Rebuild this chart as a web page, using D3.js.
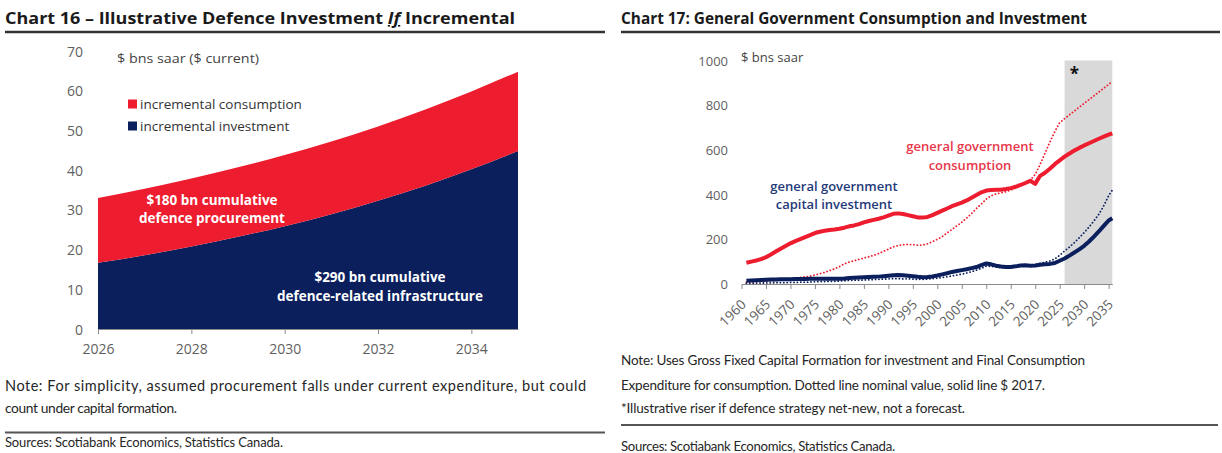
<!DOCTYPE html>
<html>
<head>
<meta charset="utf-8">
<script src="https://cdn.jsdelivr.net/npm/d3@7"></script>
<style>
body { margin: 0; background: #fff; }
svg text { font-family: "Open Sans", sans-serif; }
svg text.note { font-family: Lato, "Open Sans", sans-serif; }
</style>
</head>
<body>
<script>
// ---- chart 16 data
const defYears = [2026, 2027, 2028, 2029, 2030, 2031, 2032, 2033, 2034, 2035];
const incInvestment = [16.7, 18.6, 20.8, 23.2, 25.9, 28.9, 32.3, 36.0, 40.2, 44.8];
const incConsumption = [16.3, 16.7, 17.1, 17.5, 17.9, 18.3, 18.7, 19.2, 19.6, 20.0];
const defTicksX = [2026, 2028, 2030, 2032, 2034];
const defTicksY = [0, 10, 20, 30, 40, 50, 60, 70];

// ---- chart 17 data (annual, last point = 2035 Q4)
const ggYears = d3.range(1961, 2036).concat(2035.75);
const consReal = [95, 100, 105, 111, 120, 132, 145, 158, 170, 182,
  192, 201, 210, 219, 228, 234, 238, 242, 244, 247,
  252, 258, 262, 268, 276, 282, 287, 292, 298, 306,
  314, 316, 313, 308, 303, 298, 297, 300, 308, 318,
  328, 338, 348, 356, 364, 374, 386, 398, 410, 418,
  421, 422, 422, 425, 429, 435, 443, 452, 462, 448,
  484, 498, 516, 536, 553, 570, 584, 597, 609, 620,
  630, 640, 650, 659, 668, 674];
const consNominal = [8, 9, 10, 11, 12, 14, 16, 18, 20, 23,
  26, 29, 32, 35, 40, 46, 52, 60, 68, 78,
  90, 98, 104, 110, 116, 122, 128, 136, 146, 156,
  166, 172, 176, 177, 176, 174, 174, 180, 189, 200,
  212, 228, 244, 260, 276, 295, 315, 338, 358, 380,
  395, 403, 408, 413, 420, 430, 440, 452, 465, 490,
  535, 585, 635, 682, 722, 740, 757, 774, 791, 808,
  825, 842, 859, 876, 893, 905];
const invReal = [15, 16, 17, 18, 19, 20, 20, 21, 21, 21,
  22, 22, 22, 23, 23, 23, 23, 23, 23, 24,
  25, 27, 28, 29, 30, 31, 32, 33, 35, 37,
  39, 40, 39, 37, 35, 32, 30, 31, 34, 38,
  43, 48, 54, 58, 62, 66, 71, 76, 84, 92,
  88, 82, 78, 76, 76, 79, 83, 84, 82, 83,
  86, 88, 90, 94, 104, 114, 127, 141, 155, 171,
  190, 212, 235, 260, 284, 294];
const invNominal = [3, 3, 4, 4, 5, 5, 6, 6, 6, 7,
  7, 8, 8, 9, 10, 11, 11, 12, 12, 13,
  15, 16, 17, 17, 18, 19, 20, 21, 22, 23,
  24, 24, 23, 23, 22, 21, 21, 22, 24, 26,
  29, 32, 36, 40, 44, 49, 55, 62, 70, 80,
  79, 76, 74, 73, 75, 78, 82, 84, 85, 86,
  92, 97, 103, 112, 128, 148, 165, 185, 207, 230,
  255, 282, 312, 350, 395, 420];
const ggTicksX = d3.range(1960, 2036, 5);
const ggTicksY = [0, 200, 400, 600, 800, 1000];
const riserStart = 2026, riserEnd = 2035.75;

const red = "#ed1c2e", navy = "#0b1f5d", tickCol = "#5f5f5f";

const svg = d3.select("body").append("svg")
    .attr("width", 1222)
    .attr("height", 453);

// helper for header / footer text
function txt(x, y, s, size, len, weight, col) {
    const t = svg.append("text")
        .attr("x", x).attr("y", y)
        .attr("font-size", size)
        .attr("font-weight", weight || 400)
        .attr("fill", col || "#222")
        .text(s);
    if (len) t.attr("textLength", len).attr("lengthAdjust", "spacingAndGlyphs");
    return t;
}
// footnote lines: natural glyphs, only letter spacing stretched to the measured width
function note(x, y, s, size, len) {
    return svg.append("text").attr("class", "note")
        .attr("x", x).attr("y", y)
        .attr("font-size", size)
        .attr("fill", "#262626")
        .attr("textLength", len).attr("lengthAdjust", "spacing")
        .text(s);
}
function rule(x1, x2, y, w, col) {
    svg.append("line").attr("x1", x1).attr("x2", x2).attr("y1", y).attr("y2", y)
        .attr("stroke", col).attr("stroke-width", w);
}

// ================= Chart 16 =================
const t16 = svg.append("text").attr("x", 5).attr("y", 24)
    .attr("font-size", 16).attr("font-weight", 700).attr("fill", "#1a1a1a")
    .attr("textLength", 510).attr("lengthAdjust", "spacingAndGlyphs");
t16.append("tspan").text("Chart 16 \u2013 Illustrative Defence Investment ");
t16.append("tspan").attr("font-style", "italic").attr("text-decoration", "underline").text("If");
t16.append("tspan").text(" Incremental");
rule(5, 605, 32, 2.5, "#333");

const x16 = d3.scaleLinear().domain([2026, 2035]).range([98, 518]);
const y16 = d3.scaleLinear().domain([0, 70]).range([329, 51]);

const rows16 = defYears.map((yr, i) => ({year: yr, inv: incInvestment[i], cons: incConsumption[i]}));
const stack16 = d3.stack().keys(["inv", "cons"])(rows16);
const area16 = d3.area()
    .x(d => x16(d.data.year))
    .y0(d => y16(d[0]))
    .y1(d => y16(d[1]))
    .curve(d3.curveMonotoneX);

svg.append("g").selectAll("path")
    .data(stack16)
    .join("path")
    .attr("d", area16)
    .attr("fill", (d, i) => i === 0 ? navy : red);

const yAx16 = svg.append("g").attr("transform", "translate(83,0)")
    .call(d3.axisLeft(y16).tickValues(defTicksY).tickSize(0).tickPadding(0));
yAx16.select(".domain").remove();
yAx16.selectAll("text").attr("font-size", 14).attr("fill", tickCol).attr("dy", "0.36em");

const xAx16 = svg.append("g").attr("transform", "translate(0,329)")
    .call(d3.axisBottom(x16).tickValues(defTicksX).tickFormat(d3.format("d"))
        .tickSize(5).tickSizeOuter(0).tickPadding(10));
xAx16.select(".domain").attr("stroke", "#8a8a8a");
xAx16.selectAll("line").attr("stroke", "#8a8a8a");
xAx16.selectAll("text").attr("font-size", 14).attr("fill", tickCol);

txt(117, 63, "$ bns saar ($ current)", 13, 142, 400, "#444");

// legend
[["incremental consumption", red, 104], ["incremental investment", navy, 126]].forEach(l => {
    svg.append("rect").attr("x", 128).attr("y", l[2] - 4.5).attr("width", 9).attr("height", 9).attr("fill", l[1]);
    txt(140, l[2] + 5, l[0], 13.5, null, 400, "#333");
});

// in-area annotations
[["$180 bn cumulative", 212, 205], ["defence procurement", 212, 223],
 ["$290 bn cumulative", 380, 282], ["defence-related infrastructure", 380, 301]].forEach(a => {
    svg.append("text").attr("x", a[1]).attr("y", a[2]).attr("text-anchor", "middle")
        .attr("font-size", 13.5).attr("font-weight", 700).attr("fill", "#fff").text(a[0]);
});

note(5, 391, "Note: For simplicity, assumed procurement falls under current expenditure, but could", 14.5, 581);
note(5, 413, "count under capital formation.", 13.8, 172);
rule(5, 605, 432.5, 2, "#555");
note(5, 447, "Sources: Scotiabank Economics, Statistics Canada.", 13, 278);

// ================= Chart 17 =================
txt(621, 24, "Chart 17: General Government Consumption and Investment", 16, 466, 700, "#1a1a1a");
rule(621, 1220, 32, 2.5, "#333");

const x17 = d3.scaleLinear().domain([1960, 2035.75]).range([741.5, 1112.3]);
const y17 = d3.scaleLinear().domain([0, 1000]).range([284, 60.5]);

// riser shading
svg.append("rect")
    .attr("x", x17(riserStart)).attr("y", y17(1000))
    .attr("width", x17(riserEnd) - x17(riserStart))
    .attr("height", y17(0) - y17(1000))
    .attr("fill", "#d9d9d9");
svg.append("text").attr("x", x17(2028)).attr("y", 80).attr("text-anchor", "middle")
    .attr("font-size", 17).attr("font-weight", 700).attr("fill", "#111").text("*");

const yAx17 = svg.append("g").attr("transform", "translate(728,0)")
    .call(d3.axisLeft(y17).tickValues(ggTicksY).tickFormat(d3.format("d")).tickSize(0).tickPadding(0));
yAx17.select(".domain").remove();
yAx17.selectAll("text").attr("font-size", 13).attr("fill", tickCol).attr("dy", "0.36em");

const xAx17 = svg.append("g").attr("transform", "translate(0,284)")
    .call(d3.axisBottom(x17).tickValues(ggTicksX).tickFormat("").tickSize(5).tickSizeOuter(0));
xAx17.select(".domain").attr("stroke", "#8a8a8a");
xAx17.selectAll("line").attr("stroke", "#8a8a8a");
svg.append("g").selectAll("text")
    .data(ggTicksX)
    .join("text")
    .attr("transform", d => `translate(${x17(d) + 2},${302}) rotate(-45)`)
    .attr("text-anchor", "end")
    .attr("dy", "0.35em")
    .attr("font-size", 13.5)
    .attr("fill", tickCol)
    .text(d => d);

txt(741, 61.5, "$ bns saar", 13, null, 400, "#444");

const line17 = vals => d3.line()
    .x((d, i) => x17(ggYears[i]))
    .y(d => y17(d))(vals);

// dotted nominal series
[[consNominal, red], [invNominal, navy]].forEach(s => {
    svg.append("path").attr("d", line17(s[0]))
        .attr("fill", "none").attr("stroke", s[1]).attr("stroke-width", 1.8)
        .attr("stroke-linecap", "round").attr("stroke-dasharray", "0.1,3.3");
});
// solid $2017 series
[[consReal, red], [invReal, navy]].forEach(s => {
    svg.append("path").attr("d", line17(s[0]))
        .attr("fill", "none").attr("stroke", s[1]).attr("stroke-width", 4)
        .attr("stroke-linejoin", "round");
});

[["general government", 970, 151, "#e8364a"], ["consumption", 970, 170, "#e8364a"],
 ["general government", 834, 191, "#1f3a7a"], ["capital investment", 834, 209, "#1f3a7a"]].forEach(a => {
    svg.append("text").attr("x", a[1]).attr("y", a[2]).attr("text-anchor", "middle")
        .attr("font-size", 13).attr("font-weight", 600).attr("fill", a[3]).text(a[0]);
});

note(621, 365, "Note: Uses Gross Fixed Capital Formation for investment and Final Consumption", 13.5, 464);
note(621, 390, "Expenditure for consumption. Dotted line nominal value, solid line $ 2017.", 13.5, 424);
note(621, 413, "*Illustrative riser if defence strategy net-new, not a forecast.", 13.5, 344);
rule(621, 1218, 425, 2, "#555");
note(621, 451, "Sources: Scotiabank Economics, Statistics Canada.", 13.2, 274);
</script>
</body>
</html>
